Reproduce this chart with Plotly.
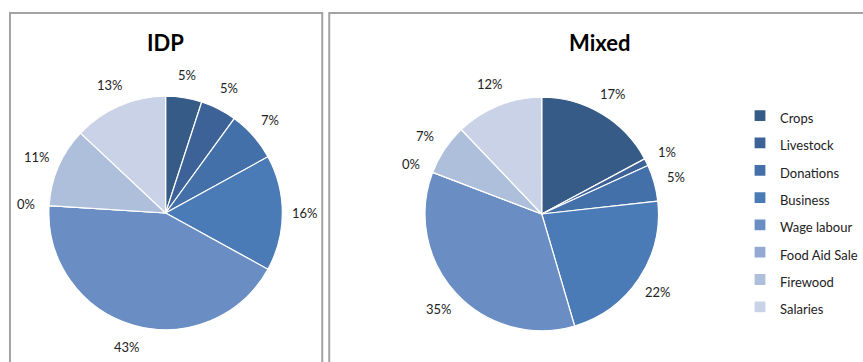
import math
import plotly.graph_objects as go

W, H = 863, 362

categories = ["Crops", "Livestock", "Donations", "Business", "Wage labour",
              "Food Aid Sale", "Firewood", "Salaries"]
idp_values = [5, 5, 7, 16, 43, 0, 11, 13]
mixed_values = [17, 1, 5, 22, 35, 0, 7, 12]
colors = ["#375B87", "#3C6298", "#4470A9", "#4A7BB7", "#6A8EC4",
          "#93A9D2", "#AEBFDC", "#C9D2E6"]

FONT = "Lato, 'Open Sans', sans-serif"

# legend labels are drawn at 13px while the legend font size sets the row pitch
legend_labels = [f'<span style="font-size:13px">{c}</span>' for c in categories]


def px_x(v):
    return v / W


def px_y(v):
    return 1 - v / H


def pie(values, cx, cy, r, show_legend):
    return go.Pie(
        labels=legend_labels,
        values=values,
        textinfo="none",
        sort=False,
        direction="clockwise",
        rotation=0,
        marker=dict(colors=colors, line=dict(color="white", width=1.2)),
        domain=dict(x=[px_x(cx - r), px_x(cx + r)], y=[px_y(cy + r), px_y(cy - r)]),
        showlegend=show_legend,
        hovertemplate="%{label}: %{value}%<extra></extra>",
    )


def value_labels(values, cx, cy, dist):
    """Percentage labels placed outside each slice, at its mid angle."""
    total = sum(values)
    cum = 0
    for v in values:
        mid = (cum + v / 2) / total * 2 * math.pi
        cum += v
        fig.add_annotation(
            text=f"{v}%", xref="paper", yref="paper",
            x=px_x(cx + dist * math.sin(mid)), y=px_y(cy - dist * math.cos(mid)),
            showarrow=False, xanchor="center", yanchor="middle",
            font=dict(family=FONT, size=13, color="#222222"),
        )


fig = go.Figure()
fig.add_trace(pie(idp_values, 166, 213, 117, False))
fig.add_trace(pie(mixed_values, 543, 214, 117, True))
value_labels(idp_values, 166, 213, 140)
value_labels(mixed_values, 543, 214, 140)

# panel frames
frame = dict(type="rect", xref="paper", yref="paper",
             line=dict(color="#A3A3A3", width=2), fillcolor="rgba(0,0,0,0)", layer="below")
fig.add_shape(x0=px_x(10), x1=px_x(323), y0=-0.05, y1=px_y(13), **frame)
fig.add_shape(x0=px_x(330), x1=1.05, y0=-0.05, y1=px_y(13), **frame)

title_font = dict(family=FONT, size=22, color="black")
fig.add_annotation(text="<b>IDP</b>", x=px_x(166), y=px_y(43), xref="paper", yref="paper",
                   showarrow=False, font=title_font, xanchor="center", yanchor="middle")
fig.add_annotation(text="<b>Mixed</b>", x=px_x(601), y=px_y(43), xref="paper", yref="paper",
                   showarrow=False, font=title_font, xanchor="center", yanchor="middle")

fig.update_layout(
    width=W, height=H,
    margin=dict(l=0, r=0, t=0, b=0),
    paper_bgcolor="white",
    plot_bgcolor="white",
    font=dict(family=FONT, color="#222222"),
    legend=dict(
        x=px_x(742), y=px_y(97), xanchor="left", yanchor="top",
        font=dict(family=FONT, size=18.7, color="#222222"),
        itemwidth=30,
        bgcolor="rgba(0,0,0,0)",
        traceorder="normal",
    ),
)

fig.write_html("out.html")
